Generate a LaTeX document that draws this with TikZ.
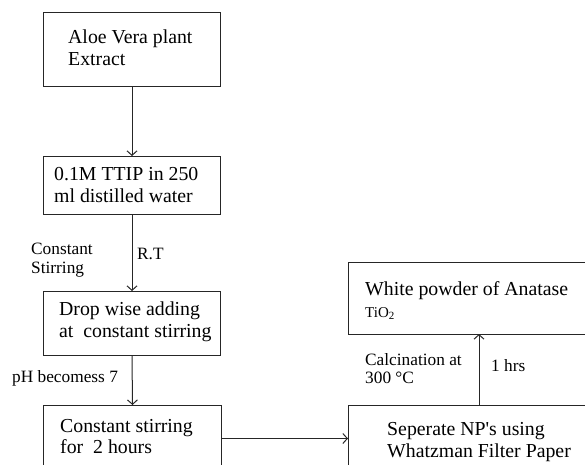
\documentclass[tikz,border=0pt]{standalone}
\usepackage{fontspec}
\setmainfont{Liberation Serif}
\usetikzlibrary{arrows.meta}
\begin{document}
\begin{tikzpicture}[x=1pt,y=-1pt,
  box/.style={draw=black!85,line width=1pt,rectangle,anchor=north west,inner sep=0pt},
  txt/.style={anchor=base west,inner sep=0pt,font=\fontsize{19.8}{22}\selectfont,text=black},
  lbl/.style={anchor=base west,inner sep=0pt,font=\fontsize{17.3}{20}\selectfont,text=black},
  arr/.style={draw=black!85,line width=1pt,-{Straight Barb[length=4.5pt,width=10pt]}}]
\useasboundingbox (0,0) rectangle (585,464);
% boxes
\node[box,minimum width=177pt,minimum height=74pt] (b1) at (43,12) {};
\node[box,minimum width=177pt,minimum height=58pt] (b2) at (43,156) {};
\node[box,minimum width=177pt,minimum height=64pt] (b3) at (43,291) {};
\node[box,minimum width=178pt,minimum height=66pt] (b4) at (43,405) {};
\node[box,minimum width=245pt,minimum height=72pt] (b5) at (348,262) {};
\node[box,minimum width=245pt,minimum height=66pt] (b6) at (348,405) {};
% box texts
\node[txt] (t1a) at (68,43) {Aloe Vera plant};
\node[txt] (t1b) at (68,65) {Extract};
\node[txt] (t2a) at (54,180) {0.1M TTIP in 250};
\node[txt] (t2b) at (54,202) {ml distilled water};
\node[txt] (t3a) at (59,315) {Drop wise adding};
\node[txt] (t3b) at (59,337) {at\ \ constant stirring};
\node[txt] (t4a) at (60,432) {Constant stirring};
\node[txt] (t4b) at (60,453) {for\ \ 2 hours};
\node[txt] (t5a) at (365,295) {White powder of Anatase};
\node[anchor=base west,inner sep=0pt,font=\fontsize{15}{18}\selectfont,text=black] (t5b) at (365,317) {TiO\raisebox{-2.5pt}{\fontsize{11}{11}\selectfont 2}};
\node[txt] (t6a) at (387,435) {Seperate NP\textquotesingle s using};
\node[txt] (t6b) at (387,457) {Whatzman Filter Paper};
% labels
\node[lbl] (l1a) at (31,254) {Constant};
\node[lbl] (l1b) at (31,273) {Stirring};
\node[lbl] (l2) at (137,259) {R.T};
\node[lbl] (l3) at (12,382) {pH becomess 7};
\node[lbl] (l4a) at (365,365) {Calcination at};
\node[lbl] (l4b) at (365,383) {300 °C};
\node[lbl] (l5) at (491,371) {1 hrs};
% connectors
\coordinate (u1) at (479,405);
\coordinate (u2) at (479,334);
\draw[arr] (b1.south) -- (b2.north);
\draw[arr] (b2.south) -- (b3.north);
\draw[arr] (b3.south) -- (b4.north);
\draw[arr] (b4.east) -- (b4.east -| b6.west);
\draw[arr] (u1) -- (u2);
\end{tikzpicture}
\end{document}
